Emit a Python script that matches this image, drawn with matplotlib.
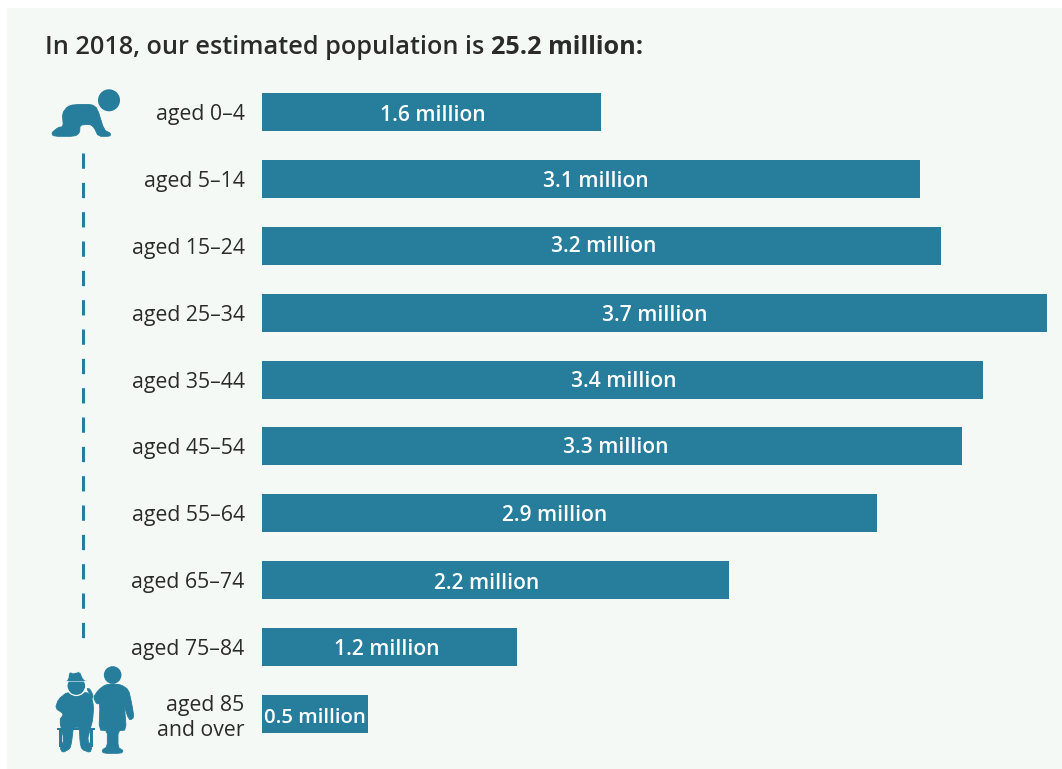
from matplotlib import pyplot as plt
from matplotlib.patches import Arc, Circle, Polygon, Rectangle

age_labels = ['aged 0–4', 'aged 5–14', 'aged 15–24', 'aged 25–34', 'aged 35–44',
              'aged 45–54', 'aged 55–64', 'aged 65–74', 'aged 75–84', 'aged 85\nand over']
population = [1.6, 3.1, 3.2, 3.7, 3.4, 3.3, 2.9, 2.2, 1.2, 0.5]
value_labels = ['1.6 million', '3.1 million', '3.2 million', '3.7 million', '3.4 million',
                '3.3 million', '2.9 million', '2.2 million', '1.2 million', '0.5 million']
# the labels are not quite centred in the bars in the original (points from bar centre)
label_nudge_x = [1, 4, 2, 0, 1, 3, -11, -6, -2, 0]
label_nudge_y = [-2, -2, 0, -2, -1.5, -1, -1.5, -2.5, -2, -3]

BAR = '#267D9C'
PANEL = '#F4F9F6'
TEXT = '#2B2B2B'
W, H = 1062, 769

plt.rcParams['font.family'] = ['Open Sans', 'DejaVu Sans']

fig = plt.figure(figsize=(W / 100, H / 100), dpi=100, facecolor='white')

# overlay in pixel coordinates for panel, title and icons
bg = fig.add_axes([0, 0, 1, 1])
bg.set_xlim(0, W)
bg.set_ylim(H, 0)
bg.axis('off')
bg.add_patch(Rectangle((7, 8), W - 7, H - 8, color=PANEL, lw=0))

t1 = bg.text(45, 47, 'In 2018, our estimated population is', fontsize=18.2, fontweight=600,
             color=TEXT, va='center', ha='left')
fig.canvas.draw()
box = t1.get_window_extent()
bg.text(box.x1 + 7, 47, '25.2 million:', fontsize=18.2, fontweight='bold',
        color=TEXT, va='center', ha='left')


def soften(pts):
    # one pass of corner cutting so the outlines look less like polygons
    out = []
    for a, b in zip(pts, pts[1:] + pts[:1]):
        out.append((0.8 * a[0] + 0.2 * b[0], 0.8 * a[1] + 0.2 * b[1]))
        out.append((0.2 * a[0] + 0.8 * b[0], 0.2 * a[1] + 0.8 * b[1]))
    return out


def shape(points, ox, oy, edge=BAR, lw=0.6):
    # outline read from a 3x zoom, so scale it back to pixels
    pts = soften([(ox + x / 3, oy + y / 3) for x, y in points])
    bg.add_patch(Polygon(pts, closed=True, fc=BAR, ec=edge, lw=lw, joinstyle='round'))


# crawling baby
bg.add_patch(Circle((109, 100.3), 11, color=BAR, lw=0))
shape([(100, 170), (97, 130), (112, 110), (130, 104), (185, 103), (202, 115), (222, 180),
       (242, 190), (240, 199), (205, 199), (192, 172), (180, 163), (150, 165), (149, 188),
       (135, 199), (70, 199), (65, 188), (85, 172)], 30, 70)

# dashed line between the icons
bg.plot([83, 83], [153, 646], color=BAR, lw=2.2, linestyle=(0, (5, 4.6)), dash_capstyle='butt')

# old couple, chair first
bg.add_patch(Rectangle((30 + 81 / 3, 640 + 264 / 3), 113 / 3, 6 / 3, color=BAR, lw=0))
bg.add_patch(Rectangle((30 + 88 / 3, 640 + 270 / 3), 3, 50 / 3, color=BAR, lw=0))
bg.add_patch(Rectangle((30 + 180 / 3, 640 + 270 / 3), 3, 50 / 3, color=BAR, lw=0))

# man
shape([(112, 156), (140, 165), (168, 156), (184, 168), (191, 200), (188, 240), (182, 262),
       (172, 300), (186, 322), (180, 338), (155, 328), (150, 305), (148, 262), (130, 262),
       (125, 305), (120, 326), (98, 338), (90, 324), (102, 300), (88, 240), (102, 222),
       (76, 205), (85, 178)], 30, 640)
bg.add_patch(Circle((30 + 139 / 3, 640 + 138 / 3), 8.8, fc=BAR, lw=0))
bg.add_patch(Arc((30 + 139 / 3, 640 + 138 / 3), 19, 19, theta1=10, theta2=170, color=PANEL, lw=0.9))
shape([(118, 95), (130, 100), (150, 94), (160, 118), (173, 124), (105, 124), (114, 118)], 30, 640,
      edge=PANEL, lw=0.4)
shape([(170, 145), (180, 147), (190, 168), (186, 176)], 30, 640)

# woman
bg.add_patch(Circle((30 + 248 / 3, 640 + 105 / 3), 8.8, color=BAR, lw=0))
shape([(225, 135), (248, 131), (275, 135), (296, 150), (305, 190), (312, 232), (300, 241),
       (291, 225), (283, 195), (289, 270), (264, 272), (264, 322), (280, 332), (274, 340),
       (220, 340), (216, 330), (232, 320), (232, 272), (207, 270), (210, 190), (200, 192),
       (190, 172), (205, 150)], 30, 640)

# bars: 212.1 px per million, first row centred at y=112.4, 66.8 px between rows
ax = fig.add_axes([262 / W, 1 - (112.4 + 9.5 * 66.8) / H, 212.1 * 4 / W, 66.8 * 10 / H])
ax.patch.set_alpha(0)
rows = list(range(len(population)))
ax.barh(rows, population, height=38 / 66.8, color=BAR)
ax.set_xlim(0, 4)
ax.set_ylim(9.5, -0.5)
for s in ax.spines.values():
    s.set_visible(False)
ax.tick_params(length=0, pad=12.5)
ax.set_xticks([])
ax.set_yticks(rows)
ax.set_yticklabels(age_labels, fontsize=15.3, color=TEXT, ha='right', linespacing=1.27)

for i, (v, lab) in enumerate(zip(population, value_labels)):
    ax.annotate(lab, (v / 2, i), xytext=(label_nudge_x[i], label_nudge_y[i]),
                textcoords='offset points', ha='center', va='center',
                color='white', fontsize=14.7 if i == 9 else 15.1, fontweight=600)

fig.savefig('out.png', dpi=100, facecolor='white')
